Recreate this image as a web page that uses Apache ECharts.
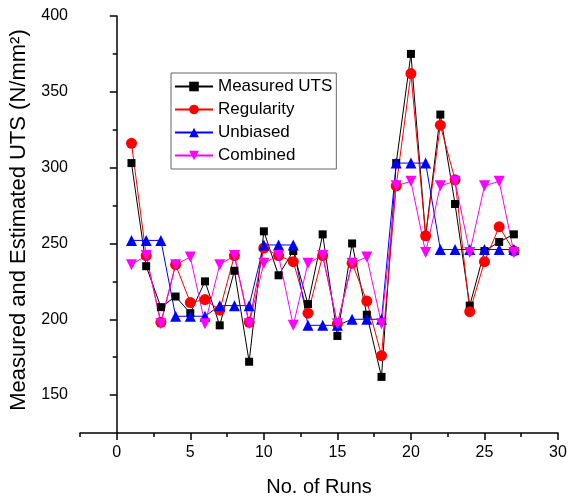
<!DOCTYPE html>
<html>
<head>
<meta charset="utf-8">
<script src="https://cdn.jsdelivr.net/npm/echarts@6/dist/echarts.min.js"></script>
<style>
  html, body { margin: 0; padding: 0; background: #fff; }
  #main { width: 573px; height: 504px; }
</style>
</head>
<body>
<div id="main"></div>
<script>
// run numbers and the four series
const runs = [1,2,3,4,5,6,7,8,9,10,11,12,13,14,15,16,17,18,19,20,21,22,23,24,25,26,27];
const measured   = [303,235,208,215,204,225,196,232,172,258,229,245,210,256,189,250,203,162,303,375,255,335,276,209,245,251,256];
const regularity = [316,242,198,236,211,213,206,242,198,247,242,238,204,242,197,237,212,176,288,362,255,328,292,205,238,261,245];
const unbiased   = [252,252,252,202,202,202,209,209,209,249,249,249,196,196,196,200,200,200,303,303,303,246,246,246,246,246,246];
const combined   = [236,242,197,236,241,197,236,242,197,237,242,196,237,242,197,237,241,197,288,291,244,288,291,244,288,291,244];

const yMajor = [150,200,250,300,350,400];
const yMinor = [175,225,275,325,375];
const xMajor = [0,5,10,15,20,25,30];
const xMinor = [-2.5,2.5,7.5,12.5,17.5,22.5,27.5];

const font = 'Arial, "Liberation Sans", sans-serif';
const chart = echarts.init(document.getElementById('main'));

function pairs(vals) {
    return runs.map((r, i) => [r, vals[i]]);
}

function mkSeries(name, vals, color, symbol, size, rotate) {
    return {
        name: name,
        type: 'line',
        data: pairs(vals),
        symbol: symbol,
        symbolSize: size,
        symbolRotate: rotate || 0,
        showAllSymbol: true,
        lineStyle: { color: color, width: 1 },
        itemStyle: { color: color },
        animation: false
    };
}

const axisLine = { show: true, lineStyle: { color: '#000', width: 1.5 } };

const option = {
    backgroundColor: '#fff',
    grid: { left: 80, right: 15, top: 16, bottom: 71 },
    legend: {
        orient: 'vertical',
        left: 171,
        top: 73,
        padding: [5, 4, 5, 3],
        itemWidth: 38,
        itemHeight: 12,
        itemGap: 6,
        borderColor: '#666',
        borderWidth: 1,
        textStyle: { fontFamily: font, fontSize: 17, color: '#000' },
        data: ['Measured UTS', 'Regularity', 'Unbiased', 'Combined']
    },
    xAxis: [{
        type: 'value',
        min: -2.5,
        max: 30,
        name: 'No. of Runs',
        nameLocation: 'middle',
        nameGap: 44,
        nameTextStyle: { fontFamily: font, fontSize: 20, color: '#000' },
        axisLine: axisLine,
        axisTick: { show: true, length: 7, lineStyle: { color: '#000', width: 1.5 }, customValues: xMajor },
        axisLabel: { fontFamily: font, fontSize: 16, color: '#000', margin: 12, customValues: xMajor },
        splitLine: { show: false }
    }, {
        type: 'value',
        min: -2.5,
        max: 30,
        position: 'bottom',
        axisLine: { show: false },
        axisTick: { show: true, length: 4, lineStyle: { color: '#000', width: 1.5 }, customValues: xMinor },
        axisLabel: { show: false },
        splitLine: { show: false }
    }],
    yAxis: [{
        type: 'value',
        min: 125,
        max: 400,
        name: 'Measured and Estimated UTS (N/mm²)',
        nameLocation: 'middle',
        nameGap: 46,
        nameTextStyle: { fontFamily: font, fontSize: 22, color: '#000', padding: [0, 0, 0, 9] },
        axisLine: axisLine,
        axisTick: { show: true, length: 7, lineStyle: { color: '#000', width: 1.5 }, customValues: yMajor },
        axisLabel: { fontFamily: font, fontSize: 16, color: '#000', margin: 12, customValues: yMajor },
        splitLine: { show: false }
    }, {
        type: 'value',
        min: 125,
        max: 400,
        position: 'left',
        axisLine: { show: false },
        axisTick: { show: true, length: 4, lineStyle: { color: '#000', width: 1.5 }, customValues: yMinor },
        axisLabel: { show: false },
        splitLine: { show: false }
    }],
    series: [
        mkSeries('Measured UTS', measured, '#000000', 'rect', 8),
        mkSeries('Regularity', regularity, '#ff0000', 'circle', 11),
        mkSeries('Unbiased', unbiased, '#0000ff', 'triangle', 11),
        mkSeries('Combined', combined, '#ff00ff', 'triangle', 11, 180)
    ]
};

chart.setOption(option);
</script>
</body>
</html>
